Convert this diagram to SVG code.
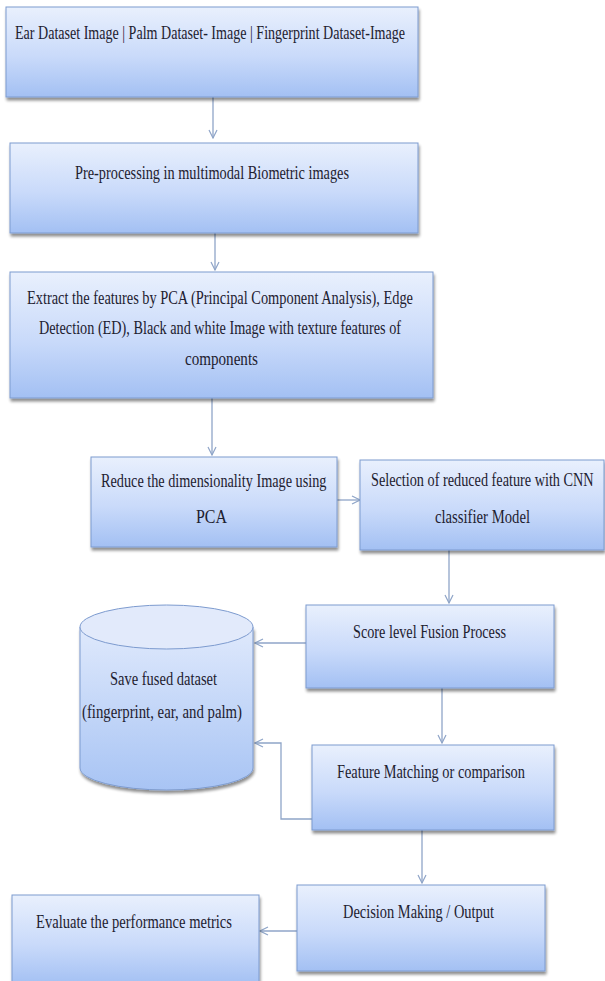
<svg xmlns="http://www.w3.org/2000/svg" width="605" height="981" viewBox="0 0 605 981">
<defs>
<linearGradient id="g" x1="0" y1="0" x2="0" y2="1">
<stop offset="0" stop-color="#e9f0fd"/>
<stop offset="0.55" stop-color="#c9dafa"/>
<stop offset="1" stop-color="#a3c0f3"/>
</linearGradient>
<linearGradient id="gc" x1="0" y1="0" x2="0" y2="1">
<stop offset="0" stop-color="#dfe9fc"/>
<stop offset="1" stop-color="#a8c4f4"/>
</linearGradient>
<filter id="sh" x="-5%" y="-5%" width="110%" height="125%">
<feGaussianBlur in="SourceAlpha" stdDeviation="1.8"/>
<feOffset dx="1" dy="3" result="b"/>
<feComponentTransfer><feFuncA type="linear" slope="0.45"/></feComponentTransfer>
<feMerge><feMergeNode/><feMergeNode in="SourceGraphic"/></feMerge>
</filter>
<marker id="ah" viewBox="0 0 10 10" refX="9" refY="5" markerWidth="10" markerHeight="10" markerUnits="userSpaceOnUse" orient="auto">
<path d="M1,1 L9,5 L1,9" fill="none" stroke="#8fa5c8" stroke-width="1.2"/>
</marker>
</defs>
<style>
.box{fill:url(#g);stroke:#7d9bcf;stroke-width:1;filter:url(#sh)}
.t{font-family:"Liberation Serif","Times New Roman",serif;font-size:19px;fill:#1e2130}
.c{fill:none;stroke:#8fa5c8;stroke-width:1.3}
</style>
<rect width="605" height="981" fill="#ffffff"/>
<g id="connectors">
<path class="c" d="M213,97 L213,138" marker-end="url(#ah)"/>
<path class="c" d="M215,233 L215,270" marker-end="url(#ah)"/>
<path class="c" d="M212,398 L212,455" marker-end="url(#ah)"/>
<path class="c" d="M337,500 L360,500" marker-end="url(#ah)"/>
<path class="c" d="M449,550 L449,603" marker-end="url(#ah)"/>
<path class="c" d="M306,643 L255,643" marker-end="url(#ah)"/>
<path class="c" d="M442,688 L442,743" marker-end="url(#ah)"/>
<path class="c" d="M312,819 L281,819 L281,743 L255,743" marker-end="url(#ah)"/>
<path class="c" d="M422,830 L422,883" marker-end="url(#ah)"/>
<path class="c" d="M297,931 L260,931" marker-end="url(#ah)"/>
</g>
<g id="n1">
<rect class="box" x="6" y="7" width="412" height="90"/>
<text class="t" x="15" y="39" textLength="390" lengthAdjust="spacingAndGlyphs">Ear Dataset Image | Palm Dataset- Image | Fingerprint Dataset-Image</text>
</g>
<g id="n2">
<rect class="box" x="10" y="143" width="408" height="90"/>
<text class="t" x="75" y="179" textLength="274" lengthAdjust="spacingAndGlyphs">Pre-processing in multimodal Biometric images</text>
</g>
<g id="n3">
<rect class="box" x="10" y="272" width="423" height="126"/>
<text class="t" x="27" y="304" textLength="386" lengthAdjust="spacingAndGlyphs">Extract the features by PCA (Principal Component Analysis), Edge</text>
<text class="t" x="39" y="334" textLength="362" lengthAdjust="spacingAndGlyphs">Detection (ED), Black and white Image with texture features of</text>
<text class="t" x="185" y="365" textLength="73" lengthAdjust="spacingAndGlyphs">components</text>
</g>
<g id="n4">
<rect class="box" x="91" y="457" width="246" height="90"/>
<text class="t" transform="translate(101,487) scale(0.75,1)" x="0" y="0">Reduce the dimensionality Image using</text>
<text class="t" x="196" y="523" textLength="31" lengthAdjust="spacingAndGlyphs">PCA</text>
</g>
<g id="n5">
<rect class="box" x="360" y="460" width="244" height="90"/>
<text class="t" transform="translate(371,486) scale(0.75,1)" x="0" y="0">Selection of reduced feature with CNN</text>
<text class="t" x="435" y="523" textLength="95" lengthAdjust="spacingAndGlyphs">classifier Model</text>
</g>
<g id="n6">
<rect class="box" x="306" y="605" width="248" height="83"/>
<text class="t" x="353" y="638" textLength="153" lengthAdjust="spacingAndGlyphs">Score level Fusion Process</text>
</g>
<g id="db">
<path d="M80,627 L80,768 A86.5,22 0 0 0 253,768 L253,627" fill="url(#gc)" stroke="#7d9bcf" stroke-width="1" filter="url(#sh)"/>
<ellipse cx="166.5" cy="627" rx="86.5" ry="22" fill="#e2eafb" stroke="#7d9bcf" stroke-width="1"/>
<text class="t" x="110" y="685" textLength="107" lengthAdjust="spacingAndGlyphs">Save fused dataset</text>
<text class="t" x="82" y="718" textLength="160" lengthAdjust="spacingAndGlyphs">(fingerprint, ear, and palm)</text>
</g>
<g id="n7">
<rect class="box" x="312" y="745" width="242" height="85"/>
<text class="t" x="337" y="778" textLength="188" lengthAdjust="spacingAndGlyphs">Feature Matching or comparison</text>
</g>
<g id="n8">
<rect class="box" x="297" y="885" width="248" height="86"/>
<text class="t" x="343" y="918" textLength="151" lengthAdjust="spacingAndGlyphs">Decision Making / Output</text>
</g>
<g id="n9">
<rect class="box" x="12" y="895" width="247" height="90"/>
<text class="t" x="36" y="928" textLength="196" lengthAdjust="spacingAndGlyphs">Evaluate the performance metrics</text>
</g>
</svg>
